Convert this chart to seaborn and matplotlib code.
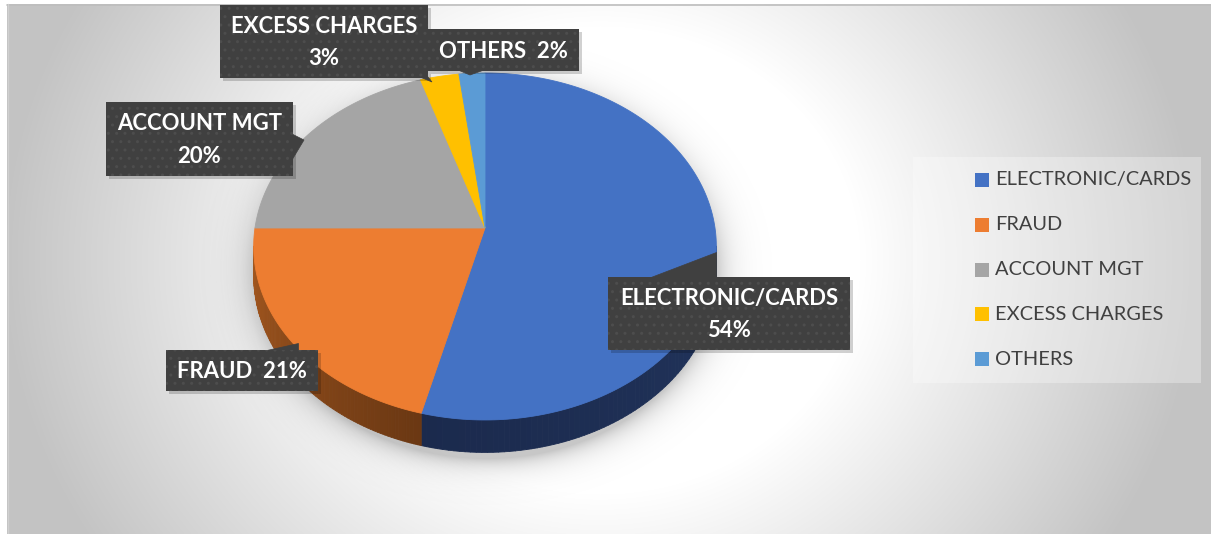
import numpy as np
import matplotlib
matplotlib.use("Agg")
import matplotlib.pyplot as plt
from matplotlib.patches import Polygon, Rectangle
from matplotlib.collections import PolyCollection
from matplotlib.colors import to_rgb
import seaborn as sns

sns.set_style("white")
plt.rcParams["font.family"] = ["Lato", "DejaVu Sans"]

# ---- data ----
categories = ["ELECTRONIC/CARDS", "FRAUD", "ACCOUNT MGT", "EXCESS CHARGES", "OTHERS"]
shares = [54, 21, 20, 3, 2]
label_two_lines = [True, False, True, True, False]

# ---- styling ----
top_colors = sns.color_palette(["#4472C4", "#ED7D31", "#A5A5A5", "#FFC000", "#5B9BD5"])
side_light = ["#1b2a4d", "#a5581f", "#6e6e6e", "#a07800", "#3a6690"]
side_dark = ["#21345c", "#6b3813", "#5a5a5a", "#806000", "#2e5478"]

W, H = 1211, 534
fig = plt.figure(figsize=(W / 100, H / 100), dpi=100)
ax = fig.add_axes([0, 0, 1, 1])
ax.set_xlim(0, W)
ax.set_ylim(H, 0)
ax.axis("off")

# chart area: radial grey gradient, white around the pie
x0, y0 = 7, 4
yy, xx = np.mgrid[y0:H, x0:W].astype(float)
r = np.sqrt((xx - 600) ** 2 + ((yy - 260) / 0.9) ** 2)
t = np.clip((r - 260) / 340, 0, 1)
g = (255 - 60 * t) / 255.0
bg = np.dstack([g, g, g])
ax.imshow(bg, extent=(x0, W, H, y0), zorder=0, interpolation="bilinear")
ax.plot([x0, W], [y0 + 0.5, y0 + 0.5], color="#bdbdbd", lw=1.2, zorder=1)
ax.plot([x0 + 0.5, x0 + 0.5], [y0, H], color="#d0d0d0", lw=1.0, zorder=1)

# ---- 3D pie geometry (perspective view of a tilted disc) ----
cx, cy = 485.0, 228.0
A, B, k, D = 230.0, 171.5, 0.1066, 29.0


def proj(theta_deg, depth=0.0):
    t = np.radians(theta_deg)
    u, v = np.cos(t), np.sin(t)
    w = 1 + k * v
    return cx + A * u / w, cy - B * v / w + depth * D / w


# soft shadow under the pie
sy, sx = np.mgrid[0:H, 0:W].astype(float)
re = np.sqrt(((sx - 486) / 234) ** 2 + ((sy - 270) / 192) ** 2)
alpha = 0.22 * np.exp(-np.clip(re - 0.98, 0, None) / 0.06)
shadow = np.zeros((H, W, 4))
shadow[..., 3] = alpha
ax.imshow(shadow, extent=(0, W, H, 0), zorder=2, interpolation="bilinear")

total = float(sum(shares))
bounds = []
start = 90.0
for s in shares:
    end = start - 360.0 * s / total
    bounds.append((start, end))
    start = end

# side walls (front half only)
vis_lo, vis_hi = -174.0, -6.0
for i, (a0, a1) in enumerate(bounds):
    hi = min(a0, vis_hi)
    lo = max(a1, vis_lo)
    if hi <= lo:
        continue
    ts = np.linspace(lo, hi, 80)
    polys, cols = [], []
    c_left = np.array(to_rgb(side_light[i]))
    c_right = np.array(to_rgb(side_dark[i]))
    for j in range(len(ts) - 1):
        ta, tb = ts[j], ts[j + 1]
        polys.append([proj(ta), proj(tb), proj(tb, 1), proj(ta, 1)])
        f = j / (len(ts) - 2)
        cols.append(c_left * (1 - f) + c_right * f)
    ax.add_collection(PolyCollection(polys, facecolors=cols, edgecolors=cols,
                                     linewidths=0.6, zorder=3))

# top faces
for i, (a0, a1) in enumerate(bounds):
    ts = np.linspace(a0, a1, 200)
    pts = [(cx, cy)] + [proj(t) for t in ts]
    ax.add_patch(Polygon(pts, closed=True, facecolor=top_colors[i],
                         edgecolor=top_colors[i], lw=0.6, zorder=4))

# ---- callout labels ----
boxes = [
    ((608, 277, 850, 350), [(648, 278), (716, 278), (716, 252)]),
    ((166, 350, 318, 391), [(262, 351), (298, 351), (298, 343)]),
    ((106, 102, 293, 176), [(292, 134), (292, 160), (304, 140)]),
    ((220, 5, 428, 78), [(420, 77), (428, 77), (432, 82)]),
    ((428, 29, 579, 71), [(458, 70), (484, 70), (470, 75)]),
]
for i, ((bx0, by0, bx1, by1), tail) in enumerate(boxes):
    ax.add_patch(Rectangle((bx0 + 3, by0 + 3), bx1 - bx0, by1 - by0,
                           facecolor="black", alpha=0.18, lw=0, zorder=5))
    ax.add_patch(Polygon(tail, closed=True, facecolor="#404040", edgecolor="#404040",
                         lw=0.5, zorder=6))
    ax.add_patch(Rectangle((bx0, by0), bx1 - bx0, by1 - by0, facecolor="#404040",
                           edgecolor="#4d4d4d", hatch="..", lw=0, zorder=6))
    sep = "\n" if label_two_lines[i] else "  "
    ax.text((bx0 + bx1) / 2, (by0 + by1) / 2 + 1, f"{categories[i]}{sep}{shares[i]}%",
            ha="center", va="center", color="white", fontsize=15.9,
            fontweight="bold", linespacing=1.68, zorder=7)

# ---- legend ----
ax.add_patch(Rectangle((913, 157), 288, 226, facecolor="white", alpha=0.3, lw=0, zorder=5))
for i, cat in enumerate(categories):
    ly = 180 + 44.8 * i
    ax.add_patch(Rectangle((975, ly - 7), 14, 14, facecolor=top_colors[i], lw=0, zorder=6))
    ax.text(995, ly, cat, ha="left", va="center", color="#404040", fontsize=14.4, zorder=6)

fig.savefig("out.png", dpi=100)
